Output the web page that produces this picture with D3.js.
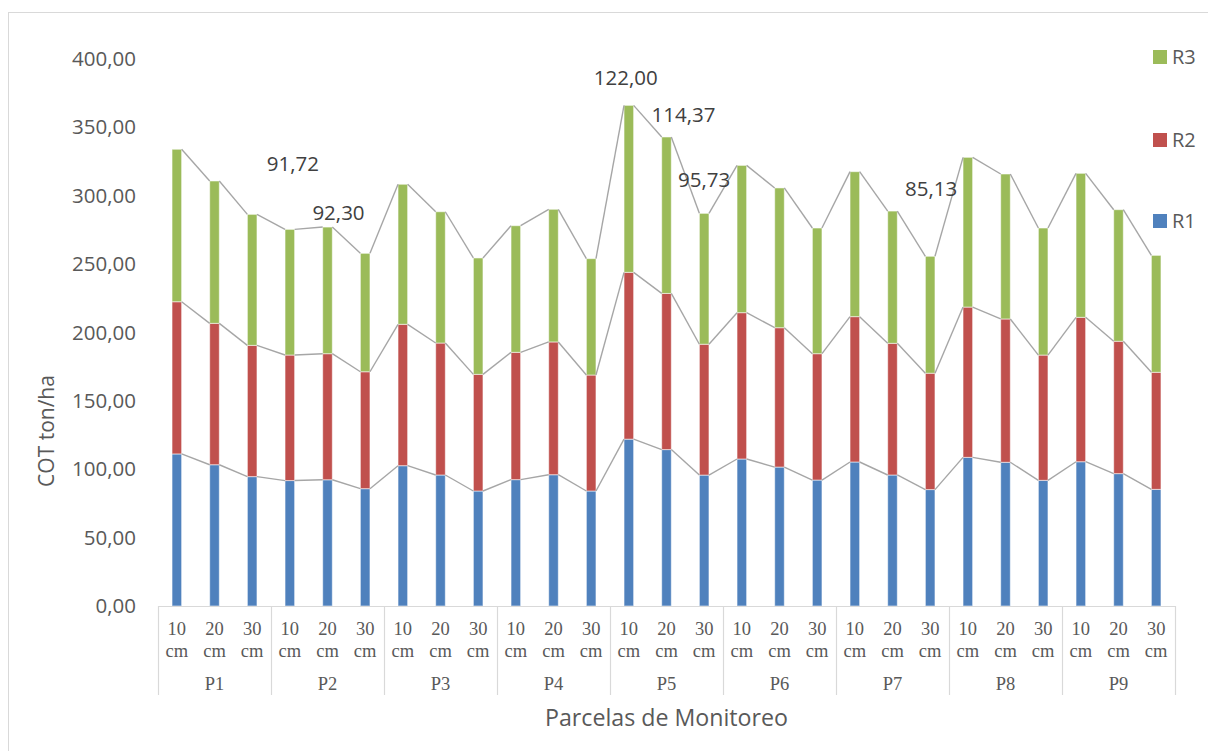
<!DOCTYPE html>
<html>
<head>
<meta charset="utf-8">
<script src="https://cdn.jsdelivr.net/npm/d3@7"></script>
<style>
  body { margin: 0; background: #fff; }
  svg { display: block; }
</style>
</head>
<body>
<svg id="chart" width="1208" height="751"></svg>
<script>
// Plots and sampling depths
const parcels = ["P1", "P2", "P3", "P4", "P5", "P6", "P7", "P8", "P9"];
const depths = ["10 cm", "20 cm", "30 cm"];

// Soil organic carbon (ton/ha) per repetition, one value per plot/depth
const r1 = [111.2, 103.3, 94.6, 91.72, 92.30, 85.8, 102.6, 95.8, 84.1, 92.4, 96.0, 84.1,
            122.00, 114.37, 95.73, 107.5, 101.6, 92.1, 105.3, 95.8, 85.13, 108.7, 105.1, 91.9,
            105.5, 96.8, 85.3];
const r2 = [111.3, 103.4, 96.0, 91.8, 92.2, 85.5, 103.4, 96.5, 85.3, 93.1, 97.1, 84.8,
            122.0, 114.2, 95.7, 107.0, 101.9, 92.4, 106.3, 96.3, 85.1, 109.9, 104.8, 91.6,
            105.6, 96.8, 85.6];
const r3 = [111.5, 104.1, 95.8, 91.9, 92.6, 86.6, 102.4, 96.0, 85.1, 92.6, 97.0, 85.1,
            122.1, 114.4, 95.7, 107.7, 102.2, 91.9, 106.0, 96.7, 85.5, 109.5, 106.0, 92.9,
            105.3, 96.2, 85.5];

const seriesNames = ["R1", "R2", "R3"];
const seriesColors = ["#4f81bd", "#c0504d", "#9bbb59"];
const yTicks = [0, 50, 100, 150, 200, 250, 300, 350, 400];

// Bars whose R1 value is printed
const labelledR1 = [3, 4, 12, 13, 14, 20];

// ---- layout ----
const W = 1208, H = 751;
const plot = { left: 158, right: 1175, top: 59, bottom: 606 };
const axisBottom = 695;
const textColor = "#595959";
const sans = "'Open Sans', 'DejaVu Sans', sans-serif";
const serif = "'Liberation Serif', 'DejaVu Serif', serif";

const svg = d3.select("#chart");
svg.append("rect").attr("width", W).attr("height", H).attr("fill", "#fff");
svg.append("rect")
  .attr("x", 8.5).attr("y", 12.5).attr("width", W).attr("height", H)
  .attr("fill", "none").attr("stroke", "#d9d9d9").attr("stroke-width", 1);

const rows = d3.range(parcels.length * depths.length).map(i => ({
  idx: i,
  parcel: parcels[Math.floor(i / depths.length)],
  depth: depths[i % depths.length],
  R1: r1[i], R2: r2[i], R3: r3[i]
}));

const x = d3.scaleBand()
  .domain(rows.map(d => d.idx))
  .range([plot.left, plot.right])
  .paddingInner(0.745)
  .paddingOuter(0.3725);

const y = d3.scaleLinear().domain([0, 400]).range([plot.bottom, plot.top]);

const stacked = d3.stack().keys(seriesNames)(rows);
const bw = x.bandwidth();

// ---- y axis (labels only) ----
const locale = d3.formatLocale({ decimal: ",", thousands: ".", grouping: [3], currency: ["", ""] });
const fmt = locale.format(".2f");

const yAxis = svg.append("g")
  .attr("transform", `translate(${plot.left - 10},0)`)
  .call(d3.axisLeft(y).tickValues(yTicks).tickFormat(fmt).tickSize(0).tickPadding(12));
yAxis.select(".domain").remove();
yAxis.selectAll("text")
  .attr("font-family", sans).attr("font-size", 20.5).attr("fill", textColor);

// ---- bars ----
svg.append("g").selectAll("g")
  .data(stacked)
  .join("g")
  .attr("fill", (d, i) => seriesColors[i])
  .selectAll("rect")
  .data(d => d)
  .join("rect")
  .attr("x", d => x(d.data.idx))
  .attr("y", d => y(d[1]))
  .attr("width", bw)
  .attr("height", d => y(d[0]) - y(d[1]))
  .attr("stroke", "rgba(255,255,255,0.55)")
  .attr("stroke-width", 1);

// ---- series lines joining the top of each segment across bars ----
const seriesLines = svg.append("g")
  .attr("fill", "none").attr("stroke", "#a6a6a6").attr("stroke-width", 1.4);
stacked.forEach(layer => {
  const segs = d3.pairs(layer).map(([a, b]) => [
    [x(a.data.idx) + bw, y(a[1])],
    [x(b.data.idx), y(b[1])]
  ]);
  seriesLines.selectAll(null)
    .data(segs)
    .join("path")
    .attr("d", d => d3.line()(d));
});

// ---- x axis: category table ----
const axisG = svg.append("g").attr("stroke", "#d9d9d9").attr("stroke-width", 1.2);
axisG.append("line")
  .attr("x1", plot.left).attr("x2", plot.right)
  .attr("y1", plot.bottom + 0.5).attr("y2", plot.bottom + 0.5);

const groupEdges = d3.range(parcels.length + 1).map(g => {
  if (g === 0) return plot.left;
  if (g === parcels.length) return plot.right;
  const a = x(g * depths.length - 1) + bw, b = x(g * depths.length);
  return (a + b) / 2;
});
axisG.selectAll(null)
  .data(groupEdges)
  .join("line")
  .attr("x1", d => Math.round(d) + 0.5).attr("x2", d => Math.round(d) + 0.5)
  .attr("y1", plot.bottom).attr("y2", axisBottom);

const depthLabels = svg.append("g")
  .attr("font-family", serif).attr("font-size", 18.5).attr("fill", textColor)
  .attr("text-anchor", "middle");
depthLabels.selectAll("text")
  .data(rows)
  .join("text")
  .attr("transform", d => `translate(${x(d.idx) + bw / 2},0)`)
  .each(function (d) {
    const parts = d.depth.split(" ");
    const t = d3.select(this);
    t.append("tspan").attr("x", 0).attr("y", 635).text(parts[0]);
    t.append("tspan").attr("x", 0).attr("y", 657).text(parts[1]);
  });

svg.append("g")
  .attr("font-family", serif).attr("font-size", 18.5).attr("fill", textColor)
  .attr("text-anchor", "middle")
  .selectAll("text")
  .data(parcels)
  .join("text")
  .attr("x", (d, i) => (groupEdges[i] + groupEdges[i + 1]) / 2)
  .attr("y", 690)
  .text(d => d);

// ---- axis titles ----
svg.append("text")
  .attr("x", (plot.left + plot.right) / 2).attr("y", 726)
  .attr("text-anchor", "middle")
  .attr("font-family", sans).attr("font-size", 23.2).attr("fill", textColor)
  .text("Parcelas de Monitoreo");

svg.append("text")
  .attr("transform", "translate(54,431) rotate(-90)")
  .attr("text-anchor", "middle")
  .attr("font-family", sans).attr("font-size", 21).attr("fill", textColor)
  .text("COT ton/ha");

// ---- R1 value labels, placed above each bar ----
const labelOffset = {
  3: [3, -66], 4: [11, -14], 12: [-3, -28], 13: [17, -22], 14: [0, -34], 20: [1, -67]
};
const totalTop = i => y(r1[i] + r2[i] + r3[i]);
svg.append("g")
  .attr("font-family", sans).attr("font-size", 20.5).attr("fill", "#404040")
  .attr("text-anchor", "middle")
  .selectAll("text")
  .data(labelledR1)
  .join("text")
  .attr("x", i => x(i) + bw / 2 + labelOffset[i][0])
  .attr("y", i => totalTop(i) + labelOffset[i][1])
  .attr("dy", "0.35em")
  .text(i => fmt(r1[i]));

// ---- legend ----
const legendY = { R3: 57, R2: 140, R1: 221 };
const legend = svg.append("g");
seriesNames.forEach((name, i) => {
  const g = legend.append("g").attr("transform", `translate(1153,${legendY[name]})`);
  g.append("rect").attr("x", 0).attr("y", -7).attr("width", 14).attr("height", 14)
    .attr("fill", seriesColors[i]);
  g.append("text").attr("x", 19).attr("y", 0).attr("dy", "0.35em")
    .attr("font-family", sans).attr("font-size", 20).attr("fill", textColor)
    .text(name);
});
</script>
</body>
</html>
